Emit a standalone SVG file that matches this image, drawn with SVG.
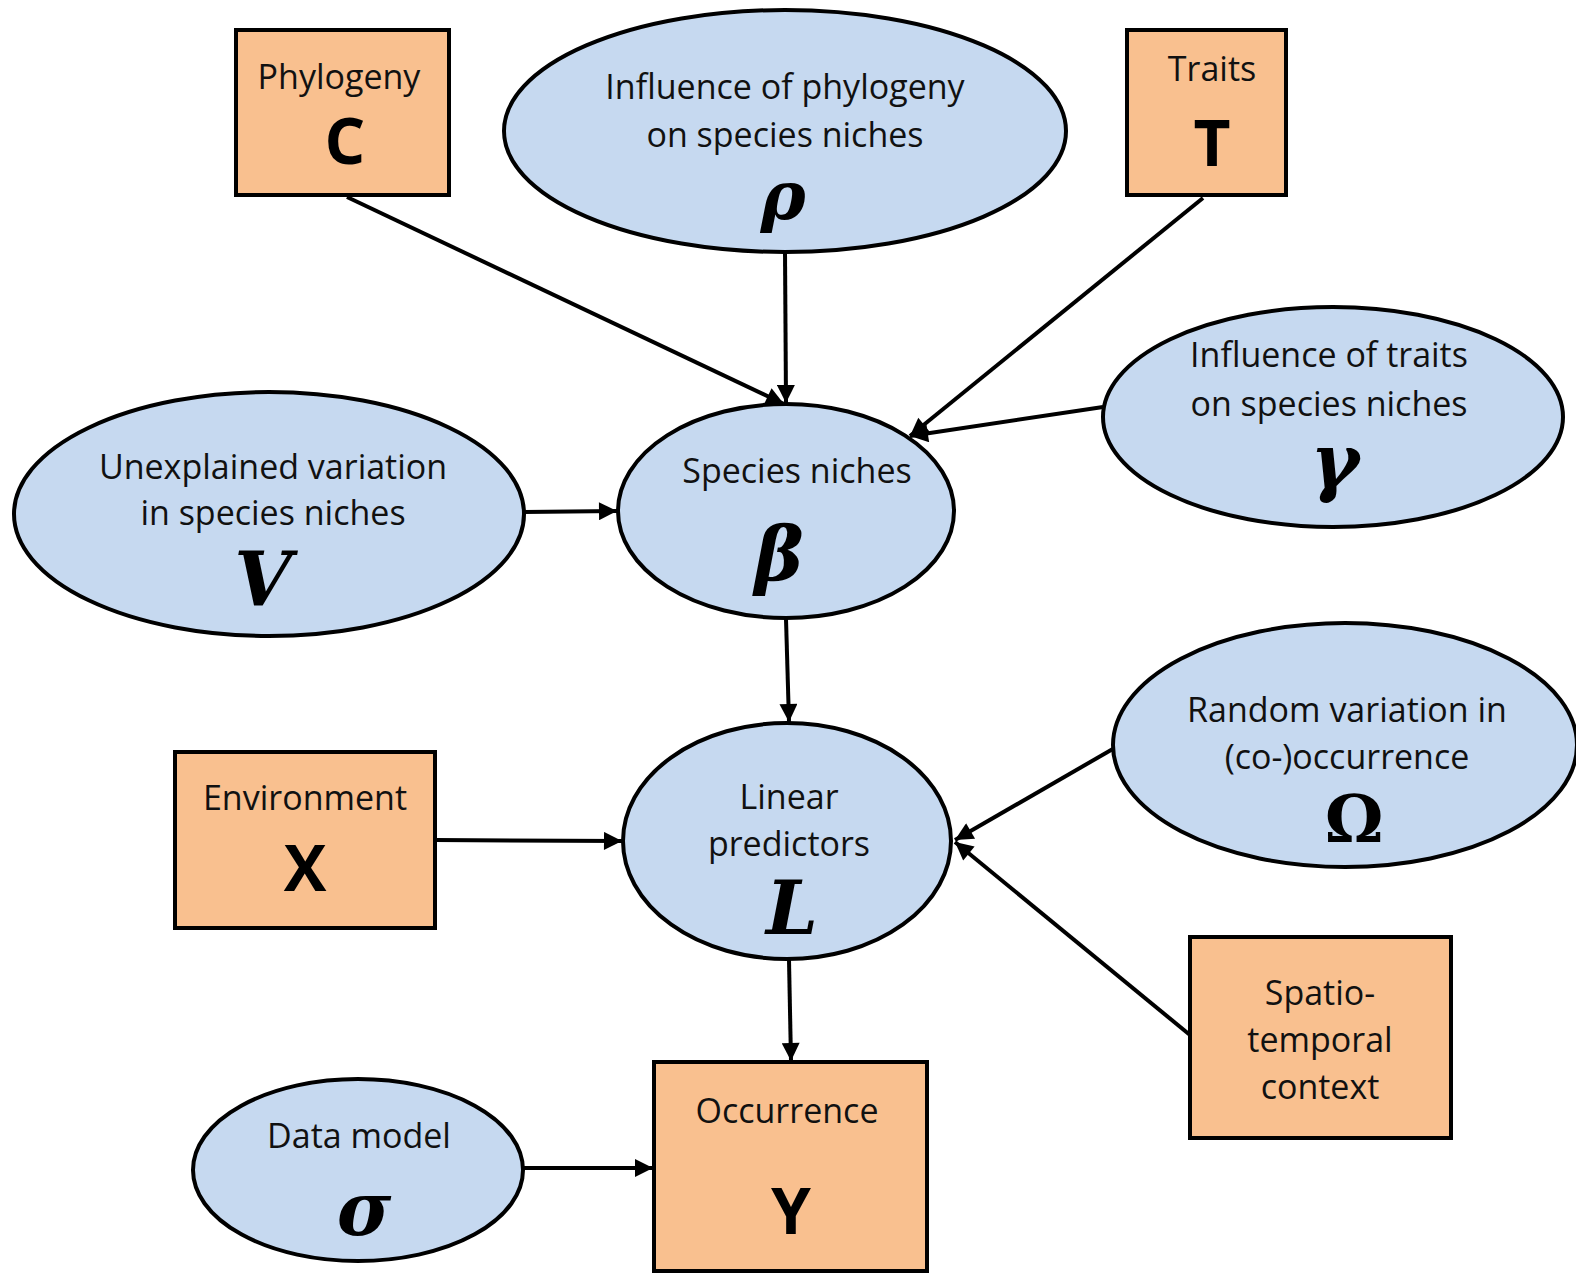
<svg xmlns="http://www.w3.org/2000/svg" width="1576" height="1273" viewBox="0 0 1576 1273">
<defs>
<marker id="ah" viewBox="0 0 10 10" refX="10" refY="5" markerWidth="5" markerHeight="4.5" orient="auto" markerUnits="strokeWidth">
<path d="M0,0 L10,5 L0,10 z" fill="#000"/>
</marker>
<style>
.ell{fill:#c6d9f0;stroke:#000;stroke-width:4}
.box{fill:#f9c08f;stroke:#000;stroke-width:4}
.t{font-family:"Open Sans","Liberation Sans",sans-serif;font-size:34px;fill:#111;text-anchor:middle}
.b{font-family:"Open Sans","Liberation Sans",sans-serif;font-weight:bold;font-size:64px;fill:#000;text-anchor:middle}
.g{font-family:"DejaVu Serif","Liberation Serif",serif;font-weight:bold;font-style:italic;font-size:74px;fill:#000;text-anchor:middle}
.c{stroke:#000;stroke-width:4;fill:none;marker-end:url(#ah)}
</style>
</defs>
<rect width="1576" height="1273" fill="#fff"/>
<g id="connectors">
<line class="c" x1="347" y1="197" x2="784" y2="404"/>
<line class="c" x1="785" y1="252" x2="786" y2="403"/>
<line class="c" x1="1203" y1="198" x2="910" y2="436"/>
<line class="c" x1="1103" y1="407" x2="910" y2="436"/>
<line class="c" x1="524" y1="512" x2="617" y2="511"/>
<line class="c" x1="786" y1="619" x2="789" y2="722"/>
<line class="c" x1="435" y1="840" x2="622" y2="841"/>
<line class="c" x1="1118" y1="746" x2="955" y2="840"/>
<line class="c" x1="1190" y1="1035" x2="955" y2="842"/>
<line class="c" x1="789" y1="960" x2="791" y2="1061"/>
<line class="c" x1="523" y1="1168" x2="653" y2="1168"/>
</g>
<g id="phylogeny">
<rect class="box" x="236" y="30" width="213" height="165"/>
<text class="t" x="339" y="89">Phylogeny</text>
<text class="b" x="345" y="164">C</text>
</g>
<g id="rho">
<ellipse class="ell" cx="785" cy="131" rx="281" ry="121"/>
<text class="t" x="785" y="99">Influence of phylogeny</text>
<text class="t" x="785" y="147">on species niches</text>
<text class="g" x="783" y="219" style="font-size:68px">ρ</text>
</g>
<g id="traits">
<rect class="box" x="1127" y="30" width="159" height="165"/>
<text class="t" x="1212" y="81">Traits</text>
<text class="b" x="1212" y="166">T</text>
</g>
<g id="gamma">
<ellipse class="ell" cx="1333" cy="417" rx="230" ry="110"/>
<text class="t" x="1329" y="367">Influence of traits</text>
<text class="t" x="1329" y="416">on species niches</text>
<text class="g" x="1335" y="487">γ</text>
</g>
<g id="V">
<ellipse class="ell" cx="269" cy="514" rx="255" ry="122"/>
<text class="t" x="273" y="479">Unexplained variation</text>
<text class="t" x="273" y="525">in species niches</text>
<text class="g" x="263" y="605">V</text>
</g>
<g id="beta">
<ellipse class="ell" cx="786" cy="511" rx="168" ry="107"/>
<text class="t" x="797" y="483">Species niches</text>
<text class="g" x="779" y="580">β</text>
</g>
<g id="omega">
<ellipse class="ell" cx="1345" cy="745" rx="232" ry="122"/>
<text class="t" x="1347" y="722">Random variation in</text>
<text class="t" x="1347" y="769">(co-)occurrence</text>
<text class="g" x="1354" y="842" style="font-style:normal;font-size:66px">Ω</text>
</g>
<g id="L">
<ellipse class="ell" cx="787" cy="841" rx="164" ry="118"/>
<text class="t" x="789" y="809">Linear</text>
<text class="t" x="789" y="856">predictors</text>
<text class="g" x="792" y="934">L</text>
</g>
<g id="environment">
<rect class="box" x="175" y="752" width="260" height="176"/>
<text class="t" x="305" y="810">Environment</text>
<text class="b" x="305" y="891">X</text>
</g>
<g id="spatiotemporal">
<rect class="box" x="1190" y="937" width="261" height="201"/>
<text class="t" x="1320" y="1005">Spatio-</text>
<text class="t" x="1320" y="1052">temporal</text>
<text class="t" x="1320" y="1099">context</text>
</g>
<g id="occurrence">
<rect class="box" x="654" y="1062" width="273" height="209"/>
<text class="t" x="787" y="1123">Occurrence</text>
<text class="b" x="791" y="1234">Y</text>
</g>
<g id="sigma">
<ellipse class="ell" cx="358" cy="1170" rx="165" ry="91"/>
<text class="t" x="359" y="1148">Data model</text>
<text class="g" x="364" y="1235">σ</text>
</g>
</svg>
